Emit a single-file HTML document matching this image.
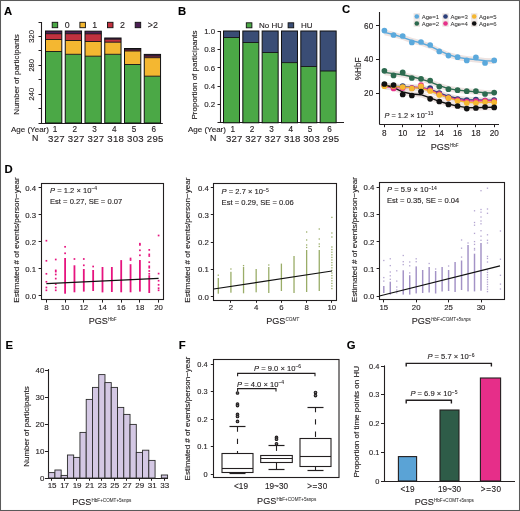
<!DOCTYPE html>
<html><head><meta charset="utf-8"><style>
html,body{margin:0;padding:0;background:#fff;}
svg{display:block;font-family:"Liberation Sans", sans-serif;will-change:transform;}
text{stroke:#231f20;stroke-width:0.13px;}
</style></head><body>
<svg width="520" height="511" viewBox="0 0 520 511">
<rect width="520" height="511" fill="#fff"/>
<text x="4" y="15.1" font-size="11.3" font-weight="bold" fill="#000">A</text>
<text x="178.1" y="14.8" font-size="11.3" font-weight="bold" fill="#000">B</text>
<text x="341.9" y="13.4" font-size="11.3" font-weight="bold" fill="#000">C</text>
<text x="4.4" y="173.0" font-size="11.3" font-weight="bold" fill="#000">D</text>
<text x="5.4" y="349.2" font-size="11.3" font-weight="bold" fill="#000">E</text>
<text x="178.8" y="349.2" font-size="11.3" font-weight="bold" fill="#000">F</text>
<text x="346.8" y="349.2" font-size="11.3" font-weight="bold" fill="#000">G</text>
<line x1="41.5" y1="22" x2="41.5" y2="123.5" stroke="#231f20" stroke-width="1.1"/>
<line x1="38.5" y1="22.5" x2="41.5" y2="22.5" stroke="#231f20" stroke-width="1"/>
<line x1="38.5" y1="36.5" x2="41.5" y2="36.5" stroke="#231f20" stroke-width="1"/>
<line x1="38.5" y1="50.5" x2="41.5" y2="50.5" stroke="#231f20" stroke-width="1"/>
<line x1="38.5" y1="65.5" x2="41.5" y2="65.5" stroke="#231f20" stroke-width="1"/>
<line x1="38.5" y1="79.5" x2="41.5" y2="79.5" stroke="#231f20" stroke-width="1"/>
<line x1="38.5" y1="94.5" x2="41.5" y2="94.5" stroke="#231f20" stroke-width="1"/>
<line x1="38.5" y1="108.5" x2="41.5" y2="108.5" stroke="#231f20" stroke-width="1"/>
<line x1="38.5" y1="123.5" x2="162.8" y2="123.5" stroke="#231f20" stroke-width="1.1"/>
<text x="0" y="0" font-size="7.6" text-anchor="middle" fill="#231f20" transform="translate(34.0,36.43199999999999) rotate(-90)">320</text>
<text x="0" y="0" font-size="7.6" text-anchor="middle" fill="#231f20" transform="translate(34.0,65.288) rotate(-90)">280</text>
<text x="0" y="0" font-size="7.6" text-anchor="middle" fill="#231f20" transform="translate(34.0,94.144) rotate(-90)">240</text>
<text x="0" y="0" font-size="8" text-anchor="middle" fill="#231f20" transform="translate(19.2,74.4) rotate(-90)">Number of participants</text>
<rect x="45.50" y="51.50" width="16.30" height="71.50" fill="#4ba846"/>
<rect x="45.50" y="39.50" width="16.30" height="12.00" fill="#f4b731"/>
<rect x="45.50" y="33.70" width="16.30" height="5.80" fill="#c1313f"/>
<rect x="45.50" y="31.00" width="16.30" height="2.70" fill="#4b1f55"/>
<line x1="45.5" y1="33.7" x2="61.8" y2="33.7" stroke="#111" stroke-width="0.9"/>
<line x1="45.5" y1="39.5" x2="61.8" y2="39.5" stroke="#111" stroke-width="0.9"/>
<line x1="45.5" y1="51.5" x2="61.8" y2="51.5" stroke="#111" stroke-width="0.9"/>
<rect x="45.50" y="31.00" width="16.30" height="92.00" fill="none" stroke="#111" stroke-width="1"/>
<rect x="65.25" y="54.30" width="16.30" height="68.70" fill="#4ba846"/>
<rect x="65.25" y="40.50" width="16.30" height="13.80" fill="#f4b731"/>
<rect x="65.25" y="33.70" width="16.30" height="6.80" fill="#c1313f"/>
<rect x="65.25" y="31.00" width="16.30" height="2.70" fill="#4b1f55"/>
<line x1="65.25" y1="33.7" x2="81.55" y2="33.7" stroke="#111" stroke-width="0.9"/>
<line x1="65.25" y1="40.5" x2="81.55" y2="40.5" stroke="#111" stroke-width="0.9"/>
<line x1="65.25" y1="54.3" x2="81.55" y2="54.3" stroke="#111" stroke-width="0.9"/>
<rect x="65.25" y="31.00" width="16.30" height="92.00" fill="none" stroke="#111" stroke-width="1"/>
<rect x="85.00" y="56.20" width="16.30" height="66.80" fill="#4ba846"/>
<rect x="85.00" y="41.50" width="16.30" height="14.70" fill="#f4b731"/>
<rect x="85.00" y="33.80" width="16.30" height="7.70" fill="#c1313f"/>
<rect x="85.00" y="31.20" width="16.30" height="2.60" fill="#4b1f55"/>
<line x1="85.0" y1="33.8" x2="101.3" y2="33.8" stroke="#111" stroke-width="0.9"/>
<line x1="85.0" y1="41.5" x2="101.3" y2="41.5" stroke="#111" stroke-width="0.9"/>
<line x1="85.0" y1="56.2" x2="101.3" y2="56.2" stroke="#111" stroke-width="0.9"/>
<rect x="85.00" y="31.20" width="16.30" height="91.80" fill="none" stroke="#111" stroke-width="1"/>
<rect x="104.75" y="54.30" width="16.30" height="68.70" fill="#4ba846"/>
<rect x="104.75" y="42.20" width="16.30" height="12.10" fill="#f4b731"/>
<rect x="104.75" y="39.20" width="16.30" height="3.00" fill="#c1313f"/>
<rect x="104.75" y="38.00" width="16.30" height="1.20" fill="#4b1f55"/>
<line x1="104.75" y1="39.2" x2="121.05" y2="39.2" stroke="#111" stroke-width="0.9"/>
<line x1="104.75" y1="42.2" x2="121.05" y2="42.2" stroke="#111" stroke-width="0.9"/>
<line x1="104.75" y1="54.3" x2="121.05" y2="54.3" stroke="#111" stroke-width="0.9"/>
<rect x="104.75" y="38.00" width="16.30" height="85.00" fill="none" stroke="#111" stroke-width="1"/>
<rect x="124.50" y="64.50" width="16.30" height="58.50" fill="#4ba846"/>
<rect x="124.50" y="51.00" width="16.30" height="13.50" fill="#f4b731"/>
<rect x="124.50" y="49.80" width="16.30" height="1.20" fill="#c1313f"/>
<rect x="124.50" y="48.50" width="16.30" height="1.30" fill="#4b1f55"/>
<line x1="124.5" y1="49.8" x2="140.8" y2="49.8" stroke="#111" stroke-width="0.9"/>
<line x1="124.5" y1="51" x2="140.8" y2="51" stroke="#111" stroke-width="0.9"/>
<line x1="124.5" y1="64.5" x2="140.8" y2="64.5" stroke="#111" stroke-width="0.9"/>
<rect x="124.50" y="48.50" width="16.30" height="74.50" fill="none" stroke="#111" stroke-width="1"/>
<rect x="144.25" y="76.20" width="16.30" height="46.80" fill="#4ba846"/>
<rect x="144.25" y="57.70" width="16.30" height="18.50" fill="#f4b731"/>
<rect x="144.25" y="56.10" width="16.30" height="1.60" fill="#c1313f"/>
<rect x="144.25" y="54.40" width="16.30" height="1.70" fill="#4b1f55"/>
<line x1="144.25" y1="56.1" x2="160.55" y2="56.1" stroke="#111" stroke-width="0.9"/>
<line x1="144.25" y1="57.7" x2="160.55" y2="57.7" stroke="#111" stroke-width="0.9"/>
<line x1="144.25" y1="76.2" x2="160.55" y2="76.2" stroke="#111" stroke-width="0.9"/>
<rect x="144.25" y="54.40" width="16.30" height="68.60" fill="none" stroke="#111" stroke-width="1"/>
<rect x="52.20" y="22.30" width="5.50" height="5.40" fill="#4ba846" stroke="#111" stroke-width="0.9"/>
<text x="67.2" y="27.7" font-size="8.8" text-anchor="middle" fill="#231f20">0</text>
<rect x="79.90" y="22.30" width="5.50" height="5.40" fill="#f4b731" stroke="#111" stroke-width="0.9"/>
<text x="94.8" y="27.7" font-size="8.8" text-anchor="middle" fill="#231f20">1</text>
<rect x="107.50" y="22.30" width="5.50" height="5.40" fill="#c1313f" stroke="#111" stroke-width="0.9"/>
<text x="122.5" y="27.7" font-size="8.8" text-anchor="middle" fill="#231f20">2</text>
<rect x="135.20" y="22.30" width="5.50" height="5.40" fill="#4b1f55" stroke="#111" stroke-width="0.9"/>
<text x="152.8" y="27.7" font-size="8.8" text-anchor="middle" fill="#231f20">&gt;2</text>
<text x="11" y="132.4" font-size="8" fill="#231f20">Age (Year)</text>
<text x="38.4" y="141.4" font-size="8.8" text-anchor="end" fill="#231f20">N</text>
<text x="54.949999999999996" y="132.2" font-size="8.2" text-anchor="middle" fill="#231f20">1</text>
<text x="56.449999999999996" y="141.6" font-size="9.6" text-anchor="middle" fill="#231f20" letter-spacing="0.25">327</text>
<text x="74.7" y="132.2" font-size="8.2" text-anchor="middle" fill="#231f20">2</text>
<text x="76.2" y="141.6" font-size="9.6" text-anchor="middle" fill="#231f20" letter-spacing="0.25">327</text>
<text x="94.45" y="132.2" font-size="8.2" text-anchor="middle" fill="#231f20">3</text>
<text x="95.95" y="141.6" font-size="9.6" text-anchor="middle" fill="#231f20" letter-spacing="0.25">327</text>
<text x="114.2" y="132.2" font-size="8.2" text-anchor="middle" fill="#231f20">4</text>
<text x="115.7" y="141.6" font-size="9.6" text-anchor="middle" fill="#231f20" letter-spacing="0.25">318</text>
<text x="133.95000000000002" y="132.2" font-size="8.2" text-anchor="middle" fill="#231f20">5</text>
<text x="135.45000000000002" y="141.6" font-size="9.6" text-anchor="middle" fill="#231f20" letter-spacing="0.25">303</text>
<text x="153.70000000000002" y="132.2" font-size="8.2" text-anchor="middle" fill="#231f20">6</text>
<text x="155.20000000000002" y="141.6" font-size="9.6" text-anchor="middle" fill="#231f20" letter-spacing="0.25">295</text>
<line x1="220.5" y1="31" x2="220.5" y2="123" stroke="#231f20" stroke-width="1.1"/>
<line x1="217.5" y1="104.5" x2="220.5" y2="104.5" stroke="#231f20" stroke-width="1"/>
<text x="215.2" y="107.24" font-size="7.9" text-anchor="end" fill="#231f20">0.2</text>
<line x1="217.5" y1="86.5" x2="220.5" y2="86.5" stroke="#231f20" stroke-width="1"/>
<text x="215.2" y="88.88" font-size="7.9" text-anchor="end" fill="#231f20">0.4</text>
<line x1="217.5" y1="67.5" x2="220.5" y2="67.5" stroke="#231f20" stroke-width="1"/>
<text x="215.2" y="70.52" font-size="7.9" text-anchor="end" fill="#231f20">0.6</text>
<line x1="217.5" y1="49.5" x2="220.5" y2="49.5" stroke="#231f20" stroke-width="1"/>
<text x="215.2" y="52.16" font-size="7.9" text-anchor="end" fill="#231f20">0.8</text>
<line x1="217.5" y1="31.5" x2="220.5" y2="31.5" stroke="#231f20" stroke-width="1"/>
<text x="215.2" y="33.8" font-size="7.9" text-anchor="end" fill="#231f20">1.0</text>
<line x1="217.5" y1="122.5" x2="344" y2="122.5" stroke="#231f20" stroke-width="1.1"/>
<text x="0" y="0" font-size="8" text-anchor="middle" fill="#231f20" transform="translate(196.5,75) rotate(-90)">Proportion of participants</text>
<rect x="223.50" y="37.50" width="16.00" height="85.30" fill="#4ba846"/>
<rect x="223.50" y="31.00" width="16.00" height="6.50" fill="#3a4d75"/>
<line x1="223.5" y1="37.5" x2="239.5" y2="37.5" stroke="#111" stroke-width="0.9"/>
<rect x="223.50" y="31.00" width="16.00" height="91.80" fill="none" stroke="#111" stroke-width="1"/>
<rect x="242.83" y="42.50" width="16.00" height="80.30" fill="#4ba846"/>
<rect x="242.83" y="31.00" width="16.00" height="11.50" fill="#3a4d75"/>
<line x1="242.82999999999998" y1="42.5" x2="258.83" y2="42.5" stroke="#111" stroke-width="0.9"/>
<rect x="242.83" y="31.00" width="16.00" height="91.80" fill="none" stroke="#111" stroke-width="1"/>
<rect x="262.16" y="52.50" width="16.00" height="70.30" fill="#4ba846"/>
<rect x="262.16" y="31.00" width="16.00" height="21.50" fill="#3a4d75"/>
<line x1="262.15999999999997" y1="52.5" x2="278.15999999999997" y2="52.5" stroke="#111" stroke-width="0.9"/>
<rect x="262.16" y="31.00" width="16.00" height="91.80" fill="none" stroke="#111" stroke-width="1"/>
<rect x="281.49" y="62.60" width="16.00" height="60.20" fill="#4ba846"/>
<rect x="281.49" y="31.00" width="16.00" height="31.60" fill="#3a4d75"/>
<line x1="281.49" y1="62.6" x2="297.49" y2="62.6" stroke="#111" stroke-width="0.9"/>
<rect x="281.49" y="31.00" width="16.00" height="91.80" fill="none" stroke="#111" stroke-width="1"/>
<rect x="300.82" y="66.50" width="16.00" height="56.30" fill="#4ba846"/>
<rect x="300.82" y="31.00" width="16.00" height="35.50" fill="#3a4d75"/>
<line x1="300.82" y1="66.5" x2="316.82" y2="66.5" stroke="#111" stroke-width="0.9"/>
<rect x="300.82" y="31.00" width="16.00" height="91.80" fill="none" stroke="#111" stroke-width="1"/>
<rect x="320.15" y="71.00" width="16.00" height="51.80" fill="#4ba846"/>
<rect x="320.15" y="31.00" width="16.00" height="40.00" fill="#3a4d75"/>
<line x1="320.15" y1="71" x2="336.15" y2="71" stroke="#111" stroke-width="0.9"/>
<rect x="320.15" y="31.00" width="16.00" height="91.80" fill="none" stroke="#111" stroke-width="1"/>
<rect x="246.30" y="22.80" width="5.60" height="5.00" fill="#4ba846" stroke="#111" stroke-width="0.9"/>
<text x="259" y="28.1" font-size="8" fill="#231f20">No HU</text>
<rect x="288.10" y="22.80" width="5.60" height="5.00" fill="#3a4d75" stroke="#111" stroke-width="0.9"/>
<text x="301" y="28.1" font-size="8" fill="#231f20">HU</text>
<text x="188" y="132.4" font-size="8" fill="#231f20">Age (Year)</text>
<text x="216.4" y="141.4" font-size="8.8" text-anchor="end" fill="#231f20">N</text>
<text x="232.8" y="132.2" font-size="8.2" text-anchor="middle" fill="#231f20">1</text>
<text x="234.3" y="141.6" font-size="9.6" text-anchor="middle" fill="#231f20" letter-spacing="0.25">327</text>
<text x="252.13" y="132.2" font-size="8.2" text-anchor="middle" fill="#231f20">2</text>
<text x="253.63" y="141.6" font-size="9.6" text-anchor="middle" fill="#231f20" letter-spacing="0.25">327</text>
<text x="271.46" y="132.2" font-size="8.2" text-anchor="middle" fill="#231f20">3</text>
<text x="272.96" y="141.6" font-size="9.6" text-anchor="middle" fill="#231f20" letter-spacing="0.25">327</text>
<text x="290.79" y="132.2" font-size="8.2" text-anchor="middle" fill="#231f20">4</text>
<text x="292.29" y="141.6" font-size="9.6" text-anchor="middle" fill="#231f20" letter-spacing="0.25">318</text>
<text x="310.12" y="132.2" font-size="8.2" text-anchor="middle" fill="#231f20">5</text>
<text x="311.62" y="141.6" font-size="9.6" text-anchor="middle" fill="#231f20" letter-spacing="0.25">303</text>
<text x="329.45" y="132.2" font-size="8.2" text-anchor="middle" fill="#231f20">6</text>
<text x="330.95" y="141.6" font-size="9.6" text-anchor="middle" fill="#231f20" letter-spacing="0.25">295</text>
<line x1="379.5" y1="12" x2="379.5" y2="124.5" stroke="#231f20" stroke-width="1.1"/>
<line x1="379.5" y1="124.5" x2="499" y2="124.5" stroke="#231f20" stroke-width="1.1"/>
<line x1="376" y1="93.5" x2="379.5" y2="93.5" stroke="#231f20" stroke-width="1"/>
<text x="373.2" y="96.2" font-size="8.2" text-anchor="end" fill="#231f20">20</text>
<line x1="376" y1="59.5" x2="379.5" y2="59.5" stroke="#231f20" stroke-width="1"/>
<text x="373.2" y="62.400000000000006" font-size="8.2" text-anchor="end" fill="#231f20">40</text>
<line x1="376" y1="25.5" x2="379.5" y2="25.5" stroke="#231f20" stroke-width="1"/>
<text x="373.2" y="28.60000000000001" font-size="8.2" text-anchor="end" fill="#231f20">60</text>
<line x1="384.5" y1="124" x2="384.5" y2="127.2" stroke="#231f20" stroke-width="1"/>
<text x="384.4" y="136.4" font-size="8.2" text-anchor="middle" fill="#231f20">8</text>
<line x1="402.5" y1="124" x2="402.5" y2="127.2" stroke="#231f20" stroke-width="1"/>
<text x="402.7" y="136.4" font-size="8.2" text-anchor="middle" fill="#231f20">10</text>
<line x1="421.5" y1="124" x2="421.5" y2="127.2" stroke="#231f20" stroke-width="1"/>
<text x="421.0" y="136.4" font-size="8.2" text-anchor="middle" fill="#231f20">12</text>
<line x1="439.5" y1="124" x2="439.5" y2="127.2" stroke="#231f20" stroke-width="1"/>
<text x="439.29999999999995" y="136.4" font-size="8.2" text-anchor="middle" fill="#231f20">14</text>
<line x1="457.5" y1="124" x2="457.5" y2="127.2" stroke="#231f20" stroke-width="1"/>
<text x="457.59999999999997" y="136.4" font-size="8.2" text-anchor="middle" fill="#231f20">16</text>
<line x1="475.5" y1="124" x2="475.5" y2="127.2" stroke="#231f20" stroke-width="1"/>
<text x="475.9" y="136.4" font-size="8.2" text-anchor="middle" fill="#231f20">18</text>
<line x1="494.5" y1="124" x2="494.5" y2="127.2" stroke="#231f20" stroke-width="1"/>
<text x="494.2" y="136.4" font-size="8.2" text-anchor="middle" fill="#231f20">20</text>
<text x="0" y="0" font-size="8.2" text-anchor="middle" fill="#231f20" transform="translate(361.0,68.8) rotate(-90)">%HbF</text>
<text x="430.7" y="149.6" font-size="9.8" fill="#231f20" textLength="19.2" lengthAdjust="spacingAndGlyphs">PGS</text>
<text x="450.0" y="146.5" font-size="4.6" fill="#333" style="stroke-width:0.05px">HbF</text>
<text x="384.5" y="117.8" font-size="7.4" fill="#231f20"><tspan font-style="italic">P</tspan> = 1.2 × 10<tspan font-size="5.0" dy="-2.6" style="stroke-width:0.08px">−13</tspan></text>
<polygon points="384.4,29.6 393.5,31.7 402.7,34.5 411.8,37.8 421.0,40.2 430.1,43.3 439.3,47.9 448.4,51.9 457.6,54.6 466.8,56.0 475.9,56.8 485.0,58.0 494.2,58.3 494.2,63.9 485.0,63.6 475.9,62.4 466.8,61.6 457.6,60.2 448.4,57.5 439.3,53.5 430.1,48.9 421.0,45.8 411.8,43.4 402.7,40.1 393.5,37.3 384.4,35.2" fill="#e9dcd9" opacity="0.8"/>
<polygon points="384.4,69.6 393.5,70.8 402.7,71.9 411.8,74.0 421.0,76.3 430.1,79.0 439.3,82.8 448.4,85.8 457.6,87.3 466.8,88.2 475.9,89.1 485.0,90.0 494.2,90.2 494.2,95.8 485.0,95.6 475.9,94.7 466.8,93.8 457.6,92.9 448.4,91.4 439.3,88.4 430.1,84.6 421.0,81.9 411.8,79.6 402.7,77.5 393.5,76.4 384.4,75.2" fill="#e9dcd9" opacity="0.8"/>
<polygon points="384.4,82.9 393.5,83.5 402.7,83.9 411.8,84.4 421.0,84.9 430.1,86.5 439.3,90.0 448.4,93.5 457.6,95.7 466.8,96.8 475.9,97.1 485.0,97.4 494.2,97.4 494.2,103.0 485.0,103.0 475.9,102.7 466.8,102.4 457.6,101.3 448.4,99.1 439.3,95.6 430.1,92.1 421.0,90.5 411.8,90.0 402.7,89.5 393.5,89.1 384.4,88.5" fill="#e9dcd9" opacity="0.8"/>
<polygon points="384.4,83.8 393.5,84.8 402.7,85.1 411.8,84.6 421.0,84.6 430.1,87.2 439.3,91.1 448.4,94.5 457.6,96.9 466.8,98.0 475.9,98.2 485.0,98.0 494.2,98.1 494.2,103.7 485.0,103.6 475.9,103.8 466.8,103.6 457.6,102.5 448.4,100.1 439.3,96.7 430.1,92.8 421.0,90.2 411.8,90.2 402.7,90.7 393.5,90.4 384.4,89.4" fill="#e9dcd9" opacity="0.8"/>
<polygon points="384.4,83.4 393.5,83.6 402.7,84.3 411.8,84.8 421.0,85.6 430.1,88.2 439.3,91.9 448.4,95.1 457.6,97.8 466.8,99.5 475.9,99.9 485.0,99.6 494.2,99.5 494.2,105.1 485.0,105.2 475.9,105.5 466.8,105.1 457.6,103.4 448.4,100.7 439.3,97.5 430.1,93.8 421.0,91.2 411.8,90.4 402.7,89.9 393.5,89.2 384.4,89.0" fill="#e9dcd9" opacity="0.8"/>
<polygon points="384.4,82.1 393.5,84.8 402.7,89.1 411.8,91.2 421.0,91.9 430.1,95.0 439.3,98.5 448.4,101.2 457.6,103.3 466.8,104.8 475.9,105.0 485.0,104.6 494.2,104.5 494.2,110.1 485.0,110.2 475.9,110.6 466.8,110.4 457.6,108.9 448.4,106.8 439.3,104.1 430.1,100.6 421.0,97.5 411.8,96.8 402.7,94.7 393.5,90.4 384.4,87.7" fill="#e9dcd9" opacity="0.8"/>
<polyline points="384.4,32.4 393.5,34.5 402.7,37.3 411.8,40.6 421.0,43.0 430.1,46.1 439.3,50.7 448.4,54.7 457.6,57.4 466.8,58.8 475.9,59.6 485.0,60.8 494.2,61.1" fill="none" stroke="#5ba9dc" stroke-width="1.4" stroke-linejoin="round"/>
<polyline points="384.4,72.4 393.5,73.6 402.7,74.7 411.8,76.8 421.0,79.1 430.1,81.8 439.3,85.6 448.4,88.6 457.6,90.1 466.8,91.0 475.9,91.9 485.0,92.8 494.2,93.0" fill="none" stroke="#2d6a4f" stroke-width="1.4" stroke-linejoin="round"/>
<polyline points="384.4,85.7 393.5,86.3 402.7,86.7 411.8,87.2 421.0,87.7 430.1,89.3 439.3,92.8 448.4,96.3 457.6,98.5 466.8,99.6 475.9,99.9 485.0,100.2 494.2,100.2" fill="none" stroke="#2b3f7a" stroke-width="1.4" stroke-linejoin="round"/>
<polyline points="384.4,86.6 393.5,87.6 402.7,87.9 411.8,87.4 421.0,87.4 430.1,90.0 439.3,93.9 448.4,97.3 457.6,99.7 466.8,100.8 475.9,101.0 485.0,100.8 494.2,100.9" fill="none" stroke="#e6318a" stroke-width="1.4" stroke-linejoin="round"/>
<polyline points="384.4,86.2 393.5,86.4 402.7,87.1 411.8,87.6 421.0,88.4 430.1,91.0 439.3,94.7 448.4,97.9 457.6,100.6 466.8,102.3 475.9,102.7 485.0,102.4 494.2,102.3" fill="none" stroke="#f4b731" stroke-width="1.4" stroke-linejoin="round"/>
<polyline points="384.4,84.9 393.5,87.6 402.7,91.9 411.8,94.0 421.0,94.7 430.1,97.8 439.3,101.3 448.4,104.0 457.6,106.1 466.8,107.6 475.9,107.8 485.0,107.4 494.2,107.3" fill="none" stroke="#111111" stroke-width="1.4" stroke-linejoin="round"/>
<circle cx="384.40" cy="30.60" r="2.85" fill="#5ba9dc"/>
<circle cx="393.55" cy="35.00" r="2.85" fill="#5ba9dc"/>
<circle cx="402.70" cy="36.00" r="2.85" fill="#5ba9dc"/>
<circle cx="411.85" cy="42.40" r="2.85" fill="#5ba9dc"/>
<circle cx="421.00" cy="42.00" r="2.85" fill="#5ba9dc"/>
<circle cx="430.15" cy="45.00" r="2.85" fill="#5ba9dc"/>
<circle cx="439.30" cy="51.40" r="2.85" fill="#5ba9dc"/>
<circle cx="448.45" cy="55.60" r="2.85" fill="#5ba9dc"/>
<circle cx="457.60" cy="57.20" r="2.85" fill="#5ba9dc"/>
<circle cx="466.75" cy="60.40" r="2.85" fill="#5ba9dc"/>
<circle cx="475.90" cy="57.40" r="2.85" fill="#5ba9dc"/>
<circle cx="485.05" cy="63.00" r="2.85" fill="#5ba9dc"/>
<circle cx="494.20" cy="60.40" r="2.85" fill="#5ba9dc"/>
<circle cx="384.40" cy="70.80" r="2.85" fill="#2d6a4f"/>
<circle cx="393.55" cy="75.40" r="2.85" fill="#2d6a4f"/>
<circle cx="402.70" cy="72.40" r="2.85" fill="#2d6a4f"/>
<circle cx="411.85" cy="78.00" r="2.85" fill="#2d6a4f"/>
<circle cx="421.00" cy="78.80" r="2.85" fill="#2d6a4f"/>
<circle cx="430.15" cy="80.60" r="2.85" fill="#2d6a4f"/>
<circle cx="439.30" cy="86.60" r="2.85" fill="#2d6a4f"/>
<circle cx="448.45" cy="89.20" r="2.85" fill="#2d6a4f"/>
<circle cx="457.60" cy="90.20" r="2.85" fill="#2d6a4f"/>
<circle cx="466.75" cy="91.20" r="2.85" fill="#2d6a4f"/>
<circle cx="475.90" cy="91.20" r="2.85" fill="#2d6a4f"/>
<circle cx="485.05" cy="94.00" r="2.85" fill="#2d6a4f"/>
<circle cx="494.20" cy="92.60" r="2.85" fill="#2d6a4f"/>
<circle cx="384.40" cy="85.00" r="2.85" fill="#2b3f7a"/>
<circle cx="393.55" cy="87.00" r="2.85" fill="#2b3f7a"/>
<circle cx="402.70" cy="86.00" r="2.85" fill="#2b3f7a"/>
<circle cx="411.85" cy="88.00" r="2.85" fill="#2b3f7a"/>
<circle cx="421.00" cy="87.00" r="2.85" fill="#2b3f7a"/>
<circle cx="430.15" cy="88.00" r="2.85" fill="#2b3f7a"/>
<circle cx="439.30" cy="93.00" r="2.85" fill="#2b3f7a"/>
<circle cx="448.45" cy="97.00" r="2.85" fill="#2b3f7a"/>
<circle cx="457.60" cy="99.00" r="2.85" fill="#2b3f7a"/>
<circle cx="466.75" cy="100.00" r="2.85" fill="#2b3f7a"/>
<circle cx="475.90" cy="99.60" r="2.85" fill="#2b3f7a"/>
<circle cx="485.05" cy="100.60" r="2.85" fill="#2b3f7a"/>
<circle cx="494.20" cy="100.00" r="2.85" fill="#2b3f7a"/>
<circle cx="384.40" cy="85.50" r="2.85" fill="#e6318a"/>
<circle cx="393.55" cy="88.50" r="2.85" fill="#e6318a"/>
<circle cx="402.70" cy="88.00" r="2.85" fill="#e6318a"/>
<circle cx="411.85" cy="88.00" r="2.85" fill="#e6318a"/>
<circle cx="421.00" cy="85.00" r="2.85" fill="#e6318a"/>
<circle cx="430.15" cy="90.00" r="2.85" fill="#e6318a"/>
<circle cx="439.30" cy="94.00" r="2.85" fill="#e6318a"/>
<circle cx="448.45" cy="98.00" r="2.85" fill="#e6318a"/>
<circle cx="457.60" cy="100.00" r="2.85" fill="#e6318a"/>
<circle cx="466.75" cy="101.50" r="2.85" fill="#e6318a"/>
<circle cx="475.90" cy="101.00" r="2.85" fill="#e6318a"/>
<circle cx="485.05" cy="100.60" r="2.85" fill="#e6318a"/>
<circle cx="494.20" cy="101.00" r="2.85" fill="#e6318a"/>
<circle cx="384.40" cy="86.20" r="2.85" fill="#f4b731"/>
<circle cx="393.55" cy="86.00" r="2.85" fill="#f4b731"/>
<circle cx="402.70" cy="87.00" r="2.85" fill="#f4b731"/>
<circle cx="411.85" cy="88.50" r="2.85" fill="#f4b731"/>
<circle cx="421.00" cy="86.40" r="2.85" fill="#f4b731"/>
<circle cx="430.15" cy="91.00" r="2.85" fill="#f4b731"/>
<circle cx="439.30" cy="95.00" r="2.85" fill="#f4b731"/>
<circle cx="448.45" cy="98.00" r="2.85" fill="#f4b731"/>
<circle cx="457.60" cy="101.00" r="2.85" fill="#f4b731"/>
<circle cx="466.75" cy="103.00" r="2.85" fill="#f4b731"/>
<circle cx="475.90" cy="103.00" r="2.85" fill="#f4b731"/>
<circle cx="485.05" cy="102.00" r="2.85" fill="#f4b731"/>
<circle cx="494.20" cy="102.40" r="2.85" fill="#f4b731"/>
<circle cx="384.40" cy="84.00" r="2.85" fill="#111111"/>
<circle cx="393.55" cy="85.00" r="2.85" fill="#111111"/>
<circle cx="402.70" cy="94.50" r="2.85" fill="#111111"/>
<circle cx="411.85" cy="95.50" r="2.85" fill="#111111"/>
<circle cx="421.00" cy="91.50" r="2.85" fill="#111111"/>
<circle cx="430.15" cy="98.80" r="2.85" fill="#111111"/>
<circle cx="439.30" cy="101.50" r="2.85" fill="#111111"/>
<circle cx="448.45" cy="104.40" r="2.85" fill="#111111"/>
<circle cx="457.60" cy="106.00" r="2.85" fill="#111111"/>
<circle cx="466.75" cy="108.60" r="2.85" fill="#111111"/>
<circle cx="475.90" cy="108.00" r="2.85" fill="#111111"/>
<circle cx="485.05" cy="107.00" r="2.85" fill="#111111"/>
<circle cx="494.20" cy="107.40" r="2.85" fill="#111111"/>
<rect x="413.60" y="13.30" width="6.40" height="6.40" fill="#ece3e0"/>
<circle cx="416.80" cy="16.50" r="2.3" fill="#5ba9dc"/>
<text x="421.7" y="18.6" font-size="6.0" fill="#333" style="stroke-width:0.04px">Age=1</text>
<rect x="413.60" y="20.30" width="6.40" height="6.40" fill="#ece3e0"/>
<circle cx="416.80" cy="23.50" r="2.3" fill="#2d6a4f"/>
<text x="421.7" y="25.6" font-size="6.0" fill="#333" style="stroke-width:0.04px">Age=2</text>
<rect x="442.30" y="13.30" width="6.40" height="6.40" fill="#ece3e0"/>
<circle cx="445.50" cy="16.50" r="2.3" fill="#2b3f7a"/>
<text x="450.4" y="18.6" font-size="6.0" fill="#333" style="stroke-width:0.04px">Age=3</text>
<rect x="442.30" y="20.30" width="6.40" height="6.40" fill="#ece3e0"/>
<circle cx="445.50" cy="23.50" r="2.3" fill="#e6318a"/>
<text x="450.4" y="25.6" font-size="6.0" fill="#333" style="stroke-width:0.04px">Age=4</text>
<rect x="471.00" y="13.30" width="6.40" height="6.40" fill="#ece3e0"/>
<circle cx="474.20" cy="16.50" r="2.3" fill="#f4b731"/>
<text x="479.09999999999997" y="18.6" font-size="6.0" fill="#333" style="stroke-width:0.04px">Age=5</text>
<rect x="471.00" y="20.30" width="6.40" height="6.40" fill="#ece3e0"/>
<circle cx="474.20" cy="23.50" r="2.3" fill="#111111"/>
<text x="479.09999999999997" y="25.6" font-size="6.0" fill="#333" style="stroke-width:0.04px">Age=6</text>
<rect x="41.50" y="183.50" width="122.00" height="116.00" fill="none" stroke="#231f20" stroke-width="1.1"/>
<line x1="38.6" y1="187.5" x2="41.4" y2="187.5" stroke="#231f20" stroke-width="1"/>
<text x="36.0" y="190.79999999999998" font-size="7.8" text-anchor="end" fill="#231f20">0.4</text>
<line x1="38.6" y1="214.5" x2="41.4" y2="214.5" stroke="#231f20" stroke-width="1"/>
<text x="36.0" y="217.79999999999998" font-size="7.8" text-anchor="end" fill="#231f20">0.3</text>
<line x1="38.6" y1="241.5" x2="41.4" y2="241.5" stroke="#231f20" stroke-width="1"/>
<text x="36.0" y="244.79999999999998" font-size="7.8" text-anchor="end" fill="#231f20">0.2</text>
<line x1="38.6" y1="268.5" x2="41.4" y2="268.5" stroke="#231f20" stroke-width="1"/>
<text x="36.0" y="272.0" font-size="7.8" text-anchor="end" fill="#231f20">0.1</text>
<line x1="38.6" y1="295.5" x2="41.4" y2="295.5" stroke="#231f20" stroke-width="1"/>
<text x="36.0" y="298.9" font-size="7.8" text-anchor="end" fill="#231f20">0.0</text>
<line x1="46.5" y1="299.8" x2="46.5" y2="302.6" stroke="#231f20" stroke-width="1"/>
<text x="46.4" y="310.1" font-size="7.8" text-anchor="middle" fill="#231f20">8</text>
<line x1="65.5" y1="299.8" x2="65.5" y2="302.6" stroke="#231f20" stroke-width="1"/>
<text x="65.1" y="310.1" font-size="7.8" text-anchor="middle" fill="#231f20">10</text>
<line x1="83.5" y1="299.8" x2="83.5" y2="302.6" stroke="#231f20" stroke-width="1"/>
<text x="83.8" y="310.1" font-size="7.8" text-anchor="middle" fill="#231f20">12</text>
<line x1="102.5" y1="299.8" x2="102.5" y2="302.6" stroke="#231f20" stroke-width="1"/>
<text x="102.5" y="310.1" font-size="7.8" text-anchor="middle" fill="#231f20">14</text>
<line x1="121.5" y1="299.8" x2="121.5" y2="302.6" stroke="#231f20" stroke-width="1"/>
<text x="121.19999999999999" y="310.1" font-size="7.8" text-anchor="middle" fill="#231f20">16</text>
<line x1="139.5" y1="299.8" x2="139.5" y2="302.6" stroke="#231f20" stroke-width="1"/>
<text x="139.9" y="310.1" font-size="7.8" text-anchor="middle" fill="#231f20">18</text>
<line x1="158.5" y1="299.8" x2="158.5" y2="302.6" stroke="#231f20" stroke-width="1"/>
<text x="158.6" y="310.1" font-size="7.8" text-anchor="middle" fill="#231f20">20</text>
<text x="0" y="0" font-size="8.1" text-anchor="middle" fill="#231f20" transform="translate(18.6,240.05) rotate(-90)">Estimated # of events/person−year</text>
<rect x="45.55" y="239.85" width="1.70" height="1.70" fill="#e6147f" opacity="1.0"/>
<rect x="45.55" y="259.95" width="1.70" height="1.70" fill="#e6147f" opacity="1.0"/>
<rect x="45.55" y="272.95" width="1.70" height="1.70" fill="#e6147f" opacity="1.0"/>
<rect x="45.55" y="280.95" width="1.70" height="1.70" fill="#e6147f" opacity="1.0"/>
<rect x="45.55" y="286.65" width="1.70" height="1.70" fill="#e6147f" opacity="1.0"/>
<rect x="45.55" y="289.45" width="1.70" height="1.70" fill="#e6147f" opacity="1.0"/>
<rect x="54.90" y="258.65" width="1.70" height="1.70" fill="#e6147f" opacity="1.0"/>
<rect x="54.90" y="269.55" width="1.70" height="1.70" fill="#e6147f" opacity="1.0"/>
<rect x="54.90" y="270.75" width="1.70" height="1.70" fill="#e6147f" opacity="1.0"/>
<rect x="54.90" y="273.65" width="1.70" height="1.70" fill="#e6147f" opacity="1.0"/>
<rect x="54.90" y="277.75" width="1.70" height="1.70" fill="#e6147f" opacity="1.0"/>
<rect x="54.90" y="283.25" width="1.70" height="1.70" fill="#e6147f" opacity="1.0"/>
<rect x="54.90" y="286.65" width="1.70" height="1.70" fill="#e6147f" opacity="1.0"/>
<rect x="54.90" y="289.45" width="1.70" height="1.70" fill="#e6147f" opacity="1.0"/>
<rect x="64.20" y="258.00" width="1.80" height="35.70" fill="#e6147f" opacity="1.0"/>
<rect x="64.25" y="245.95" width="1.70" height="1.70" fill="#e6147f" opacity="1.0"/>
<rect x="64.25" y="252.45" width="1.70" height="1.70" fill="#e6147f" opacity="1.0"/>
<rect x="73.55" y="265.30" width="1.80" height="27.00" fill="#e6147f" opacity="1.0"/>
<rect x="73.60" y="258.15" width="1.70" height="1.70" fill="#e6147f" opacity="1.0"/>
<rect x="82.90" y="269.00" width="1.80" height="22.60" fill="#e6147f" opacity="1.0"/>
<rect x="82.95" y="258.15" width="1.70" height="1.70" fill="#e6147f" opacity="1.0"/>
<rect x="82.95" y="264.45" width="1.70" height="1.70" fill="#e6147f" opacity="1.0"/>
<rect x="92.25" y="270.00" width="1.80" height="21.00" fill="#e6147f" opacity="1.0"/>
<rect x="92.30" y="265.65" width="1.70" height="1.70" fill="#e6147f" opacity="1.0"/>
<rect x="101.60" y="267.00" width="1.80" height="25.40" fill="#e6147f" opacity="1.0"/>
<rect x="110.95" y="267.00" width="1.80" height="25.00" fill="#e6147f" opacity="1.0"/>
<rect x="120.30" y="260.10" width="1.80" height="32.20" fill="#e6147f" opacity="1.0"/>
<rect x="129.65" y="264.20" width="1.80" height="28.10" fill="#e6147f" opacity="1.0"/>
<rect x="129.70" y="257.65" width="1.70" height="1.70" fill="#e6147f" opacity="1.0"/>
<rect x="129.70" y="259.15" width="1.70" height="1.70" fill="#e6147f" opacity="1.0"/>
<rect x="139.00" y="260.00" width="1.80" height="31.60" fill="#e6147f" opacity="1.0"/>
<rect x="139.05" y="242.85" width="1.70" height="1.70" fill="#e6147f" opacity="1.0"/>
<rect x="139.05" y="244.05" width="1.70" height="1.70" fill="#e6147f" opacity="1.0"/>
<rect x="139.05" y="249.45" width="1.70" height="1.70" fill="#e6147f" opacity="1.0"/>
<rect x="139.05" y="254.45" width="1.70" height="1.70" fill="#e6147f" opacity="1.0"/>
<rect x="148.35" y="275.20" width="1.80" height="17.80" fill="#e6147f" opacity="1.0"/>
<rect x="148.40" y="249.05" width="1.70" height="1.70" fill="#e6147f" opacity="1.0"/>
<rect x="148.40" y="253.55" width="1.70" height="1.70" fill="#e6147f" opacity="1.0"/>
<rect x="148.40" y="255.15" width="1.70" height="1.70" fill="#e6147f" opacity="1.0"/>
<rect x="148.40" y="261.35" width="1.70" height="1.70" fill="#e6147f" opacity="1.0"/>
<rect x="148.40" y="265.45" width="1.70" height="1.70" fill="#e6147f" opacity="1.0"/>
<rect x="148.40" y="266.85" width="1.70" height="1.70" fill="#e6147f" opacity="1.0"/>
<rect x="148.40" y="270.15" width="1.70" height="1.70" fill="#e6147f" opacity="1.0"/>
<rect x="148.40" y="272.95" width="1.70" height="1.70" fill="#e6147f" opacity="1.0"/>
<rect x="157.75" y="234.65" width="1.70" height="1.70" fill="#e6147f" opacity="1.0"/>
<rect x="157.75" y="272.75" width="1.70" height="1.70" fill="#e6147f" opacity="1.0"/>
<rect x="157.75" y="279.85" width="1.70" height="1.70" fill="#e6147f" opacity="1.0"/>
<rect x="157.75" y="283.95" width="1.70" height="1.70" fill="#e6147f" opacity="1.0"/>
<rect x="157.75" y="287.35" width="1.70" height="1.70" fill="#e6147f" opacity="1.0"/>
<rect x="157.75" y="289.45" width="1.70" height="1.70" fill="#e6147f" opacity="1.0"/>
<line x1="46.4" y1="283.7" x2="158.6" y2="278.4" stroke="#111" stroke-width="1.25"/>
<text x="50" y="192.8" font-size="7.6" fill="#231f20"><tspan font-style="italic">P</tspan> = 1.2 × 10<tspan font-size="5.0" dy="-2.6" style="stroke-width:0.08px">−4</tspan></text>
<text x="50" y="203.60000000000002" font-size="7.6" fill="#231f20">Est = 0.27, SE = 0.07</text>
<text x="88.7" y="324.4" font-size="9.8" fill="#231f20" textLength="19.2" lengthAdjust="spacingAndGlyphs">PGS</text>
<text x="108.0" y="321.29999999999995" font-size="4.6" fill="#333" style="stroke-width:0.05px">HbF</text>
<rect x="213.50" y="183.50" width="123.00" height="117.00" fill="none" stroke="#231f20" stroke-width="1.1"/>
<line x1="210.79999999999998" y1="187.5" x2="213.6" y2="187.5" stroke="#231f20" stroke-width="1"/>
<text x="208.8" y="191.0" font-size="7.8" text-anchor="end" fill="#231f20">0.4</text>
<line x1="210.79999999999998" y1="214.5" x2="213.6" y2="214.5" stroke="#231f20" stroke-width="1"/>
<text x="208.8" y="218.1" font-size="7.8" text-anchor="end" fill="#231f20">0.3</text>
<line x1="210.79999999999998" y1="242.5" x2="213.6" y2="242.5" stroke="#231f20" stroke-width="1"/>
<text x="208.8" y="245.2" font-size="7.8" text-anchor="end" fill="#231f20">0.2</text>
<line x1="210.79999999999998" y1="269.5" x2="213.6" y2="269.5" stroke="#231f20" stroke-width="1"/>
<text x="208.8" y="272.4" font-size="7.8" text-anchor="end" fill="#231f20">0.1</text>
<line x1="210.79999999999998" y1="296.5" x2="213.6" y2="296.5" stroke="#231f20" stroke-width="1"/>
<text x="208.8" y="299.5" font-size="7.8" text-anchor="end" fill="#231f20">0.0</text>
<line x1="230.5" y1="300.0" x2="230.5" y2="302.8" stroke="#231f20" stroke-width="1"/>
<text x="230.92000000000002" y="310.3" font-size="7.8" text-anchor="middle" fill="#231f20">2</text>
<line x1="256.5" y1="300.0" x2="256.5" y2="302.8" stroke="#231f20" stroke-width="1"/>
<text x="256.16" y="310.3" font-size="7.8" text-anchor="middle" fill="#231f20">4</text>
<line x1="281.5" y1="300.0" x2="281.5" y2="302.8" stroke="#231f20" stroke-width="1"/>
<text x="281.4" y="310.3" font-size="7.8" text-anchor="middle" fill="#231f20">6</text>
<line x1="306.5" y1="300.0" x2="306.5" y2="302.8" stroke="#231f20" stroke-width="1"/>
<text x="306.64" y="310.3" font-size="7.8" text-anchor="middle" fill="#231f20">8</text>
<line x1="331.5" y1="300.0" x2="331.5" y2="302.8" stroke="#231f20" stroke-width="1"/>
<text x="331.88" y="310.3" font-size="7.8" text-anchor="middle" fill="#231f20">10</text>
<text x="0" y="0" font-size="8.1" text-anchor="middle" fill="#231f20" transform="translate(190.4,240.1) rotate(-90)">Estimated # of events/person−year</text>
<rect x="217.65" y="278.00" width="1.30" height="15.70" fill="#9aad68" opacity="1.0"/>
<rect x="217.65" y="274.55" width="1.30" height="1.30" fill="#9aad68" opacity="1.0"/>
<rect x="230.27" y="271.80" width="1.30" height="20.90" fill="#9aad68" opacity="1.0"/>
<rect x="230.27" y="268.35" width="1.30" height="1.30" fill="#9aad68" opacity="1.0"/>
<rect x="242.89" y="267.00" width="1.30" height="26.30" fill="#9aad68" opacity="1.0"/>
<rect x="242.89" y="264.95" width="1.30" height="1.30" fill="#9aad68" opacity="1.0"/>
<rect x="255.51" y="269.00" width="1.30" height="23.30" fill="#9aad68" opacity="1.0"/>
<rect x="268.13" y="267.00" width="1.30" height="26.00" fill="#9aad68" opacity="1.0"/>
<rect x="268.13" y="264.35" width="1.30" height="1.30" fill="#9aad68" opacity="1.0"/>
<rect x="280.75" y="263.60" width="1.30" height="27.40" fill="#9aad68" opacity="1.0"/>
<rect x="293.37" y="256.00" width="1.30" height="37.00" fill="#9aad68" opacity="1.0"/>
<rect x="305.99" y="250.00" width="1.30" height="42.00" fill="#9aad68" opacity="1.0"/>
<rect x="305.99" y="231.35" width="1.30" height="1.30" fill="#9aad68" opacity="1.0"/>
<rect x="305.99" y="239.35" width="1.30" height="1.30" fill="#9aad68" opacity="1.0"/>
<rect x="305.99" y="244.35" width="1.30" height="1.30" fill="#9aad68" opacity="1.0"/>
<rect x="305.99" y="246.85" width="1.30" height="1.30" fill="#9aad68" opacity="1.0"/>
<rect x="318.61" y="250.00" width="1.30" height="41.00" fill="#9aad68" opacity="1.0"/>
<rect x="318.61" y="228.35" width="1.30" height="1.30" fill="#9aad68" opacity="1.0"/>
<rect x="318.61" y="238.35" width="1.30" height="1.30" fill="#9aad68" opacity="1.0"/>
<rect x="318.61" y="243.35" width="1.30" height="1.30" fill="#9aad68" opacity="1.0"/>
<rect x="318.61" y="245.85" width="1.30" height="1.30" fill="#9aad68" opacity="1.0"/>
<rect x="331.23" y="216.75" width="1.30" height="1.30" fill="#9aad68" opacity="1.0"/>
<rect x="331.23" y="232.35" width="1.30" height="1.30" fill="#9aad68" opacity="1.0"/>
<rect x="331.23" y="236.35" width="1.30" height="1.30" fill="#9aad68" opacity="1.0"/>
<rect x="331.23" y="246.35" width="1.30" height="1.30" fill="#9aad68" opacity="1.0"/>
<rect x="331.23" y="248.95" width="1.30" height="1.30" fill="#9aad68" opacity="1.0"/>
<rect x="331.23" y="251.55" width="1.30" height="1.30" fill="#9aad68" opacity="1.0"/>
<rect x="331.23" y="254.15" width="1.30" height="1.30" fill="#9aad68" opacity="1.0"/>
<rect x="331.23" y="256.75" width="1.30" height="1.30" fill="#9aad68" opacity="1.0"/>
<rect x="331.23" y="259.35" width="1.30" height="1.30" fill="#9aad68" opacity="1.0"/>
<rect x="331.23" y="261.95" width="1.30" height="1.30" fill="#9aad68" opacity="1.0"/>
<rect x="331.23" y="264.55" width="1.30" height="1.30" fill="#9aad68" opacity="1.0"/>
<rect x="331.23" y="267.15" width="1.30" height="1.30" fill="#9aad68" opacity="1.0"/>
<rect x="331.23" y="269.75" width="1.30" height="1.30" fill="#9aad68" opacity="1.0"/>
<rect x="331.23" y="272.35" width="1.30" height="1.30" fill="#9aad68" opacity="1.0"/>
<rect x="331.23" y="274.95" width="1.30" height="1.30" fill="#9aad68" opacity="1.0"/>
<rect x="331.23" y="277.55" width="1.30" height="1.30" fill="#9aad68" opacity="1.0"/>
<rect x="331.23" y="280.15" width="1.30" height="1.30" fill="#9aad68" opacity="1.0"/>
<rect x="331.23" y="282.75" width="1.30" height="1.30" fill="#9aad68" opacity="1.0"/>
<rect x="331.23" y="285.35" width="1.30" height="1.30" fill="#9aad68" opacity="1.0"/>
<rect x="331.23" y="287.95" width="1.30" height="1.30" fill="#9aad68" opacity="1.0"/>
<line x1="213.6" y1="289" x2="332" y2="271" stroke="#111" stroke-width="1.25"/>
<text x="221.6" y="194.2" font-size="7.6" fill="#231f20"><tspan font-style="italic">P</tspan> = 2.7 × 10<tspan font-size="5.0" dy="-2.6" style="stroke-width:0.08px">−5</tspan></text>
<text x="221.6" y="205.0" font-size="7.6" fill="#231f20">Est = 0.29, SE = 0.06</text>
<text x="266.2" y="324.0" font-size="9.8" fill="#231f20" textLength="19.2" lengthAdjust="spacingAndGlyphs">PGS</text>
<text x="285.5" y="320.9" font-size="4.6" fill="#333" font-style="italic" style="stroke-width:0.05px">COMT</text>
<rect x="379.50" y="182.50" width="125.00" height="117.00" fill="none" stroke="#231f20" stroke-width="1.1"/>
<line x1="376.59999999999997" y1="187.5" x2="379.4" y2="187.5" stroke="#231f20" stroke-width="1"/>
<text x="374.4" y="190.2" font-size="7.8" text-anchor="end" fill="#231f20">0.4</text>
<line x1="376.59999999999997" y1="214.5" x2="379.4" y2="214.5" stroke="#231f20" stroke-width="1"/>
<text x="374.4" y="217.39999999999998" font-size="7.8" text-anchor="end" fill="#231f20">0.3</text>
<line x1="376.59999999999997" y1="241.5" x2="379.4" y2="241.5" stroke="#231f20" stroke-width="1"/>
<text x="374.4" y="244.6" font-size="7.8" text-anchor="end" fill="#231f20">0.2</text>
<line x1="376.59999999999997" y1="268.5" x2="379.4" y2="268.5" stroke="#231f20" stroke-width="1"/>
<text x="374.4" y="271.8" font-size="7.8" text-anchor="end" fill="#231f20">0.1</text>
<line x1="376.59999999999997" y1="296.5" x2="379.4" y2="296.5" stroke="#231f20" stroke-width="1"/>
<text x="374.4" y="299.2" font-size="7.8" text-anchor="end" fill="#231f20">0.0</text>
<line x1="383.5" y1="299.6" x2="383.5" y2="302.40000000000003" stroke="#231f20" stroke-width="1"/>
<text x="383.8" y="309.90000000000003" font-size="7.8" text-anchor="middle" fill="#231f20">15</text>
<line x1="416.5" y1="299.6" x2="416.5" y2="302.40000000000003" stroke="#231f20" stroke-width="1"/>
<text x="416.20000000000005" y="309.90000000000003" font-size="7.8" text-anchor="middle" fill="#231f20">20</text>
<line x1="448.5" y1="299.6" x2="448.5" y2="302.40000000000003" stroke="#231f20" stroke-width="1"/>
<text x="448.6" y="309.90000000000003" font-size="7.8" text-anchor="middle" fill="#231f20">25</text>
<line x1="481.5" y1="299.6" x2="481.5" y2="302.40000000000003" stroke="#231f20" stroke-width="1"/>
<text x="481.0" y="309.90000000000003" font-size="7.8" text-anchor="middle" fill="#231f20">30</text>
<text x="0" y="0" font-size="8.1" text-anchor="middle" fill="#231f20" transform="translate(356.6,239.60000000000002) rotate(-90)">Estimated # of events/person−year</text>
<rect x="383.07" y="286.00" width="1.45" height="7.00" fill="#8068b0" opacity="0.72"/>
<rect x="383.15" y="259.85" width="1.30" height="1.30" fill="#8068b0" opacity="0.6"/>
<rect x="383.15" y="276.95" width="1.30" height="1.30" fill="#8068b0" opacity="0.6"/>
<rect x="383.15" y="280.45" width="1.30" height="1.30" fill="#8068b0" opacity="0.6"/>
<rect x="389.56" y="281.70" width="1.45" height="12.90" fill="#8068b0" opacity="0.72"/>
<rect x="389.63" y="258.15" width="1.30" height="1.30" fill="#8068b0" opacity="0.6"/>
<rect x="389.63" y="264.95" width="1.30" height="1.30" fill="#8068b0" opacity="0.6"/>
<rect x="389.63" y="271.35" width="1.30" height="1.30" fill="#8068b0" opacity="0.6"/>
<rect x="389.63" y="275.15" width="1.30" height="1.30" fill="#8068b0" opacity="0.6"/>
<rect x="389.63" y="278.65" width="1.30" height="1.30" fill="#8068b0" opacity="0.6"/>
<rect x="396.11" y="270.15" width="1.30" height="1.30" fill="#8068b0" opacity="0.6"/>
<rect x="396.11" y="280.45" width="1.30" height="1.30" fill="#8068b0" opacity="0.6"/>
<rect x="396.11" y="286.35" width="1.30" height="1.30" fill="#8068b0" opacity="0.6"/>
<rect x="396.11" y="289.35" width="1.30" height="1.30" fill="#8068b0" opacity="0.6"/>
<rect x="396.11" y="292.15" width="1.30" height="1.30" fill="#8068b0" opacity="0.6"/>
<rect x="402.51" y="270.30" width="1.45" height="24.30" fill="#8068b0" opacity="0.72"/>
<rect x="402.59" y="254.85" width="1.30" height="1.30" fill="#8068b0" opacity="0.6"/>
<rect x="402.59" y="261.05" width="1.30" height="1.30" fill="#8068b0" opacity="0.6"/>
<rect x="402.59" y="263.95" width="1.30" height="1.30" fill="#8068b0" opacity="0.6"/>
<rect x="409.00" y="275.20" width="1.45" height="19.40" fill="#8068b0" opacity="0.72"/>
<rect x="409.07" y="261.35" width="1.30" height="1.30" fill="#8068b0" opacity="0.6"/>
<rect x="409.07" y="265.15" width="1.30" height="1.30" fill="#8068b0" opacity="0.6"/>
<rect x="409.07" y="272.25" width="1.30" height="1.30" fill="#8068b0" opacity="0.6"/>
<rect x="415.48" y="266.40" width="1.45" height="27.00" fill="#8068b0" opacity="0.72"/>
<rect x="415.55" y="258.15" width="1.30" height="1.30" fill="#8068b0" opacity="0.6"/>
<rect x="415.55" y="261.05" width="1.30" height="1.30" fill="#8068b0" opacity="0.6"/>
<rect x="421.95" y="270.00" width="1.45" height="23.00" fill="#8068b0" opacity="0.72"/>
<rect x="428.44" y="267.00" width="1.45" height="25.50" fill="#8068b0" opacity="0.72"/>
<rect x="428.51" y="262.85" width="1.30" height="1.30" fill="#8068b0" opacity="0.6"/>
<rect x="434.91" y="271.00" width="1.45" height="22.50" fill="#8068b0" opacity="0.72"/>
<rect x="434.99" y="268.35" width="1.30" height="1.30" fill="#8068b0" opacity="0.6"/>
<rect x="441.39" y="267.00" width="1.45" height="24.50" fill="#8068b0" opacity="0.72"/>
<rect x="447.88" y="270.00" width="1.45" height="21.00" fill="#8068b0" opacity="0.72"/>
<rect x="447.95" y="265.35" width="1.30" height="1.30" fill="#8068b0" opacity="0.6"/>
<rect x="454.36" y="262.00" width="1.45" height="30.00" fill="#8068b0" opacity="0.72"/>
<rect x="460.83" y="260.50" width="1.45" height="29.50" fill="#8068b0" opacity="0.72"/>
<rect x="460.91" y="239.35" width="1.30" height="1.30" fill="#8068b0" opacity="0.6"/>
<rect x="460.91" y="247.55" width="1.30" height="1.30" fill="#8068b0" opacity="0.6"/>
<rect x="460.91" y="256.45" width="1.30" height="1.30" fill="#8068b0" opacity="0.6"/>
<rect x="467.31" y="245.00" width="1.45" height="46.40" fill="#8068b0" opacity="0.72"/>
<rect x="467.39" y="242.35" width="1.30" height="1.30" fill="#8068b0" opacity="0.6"/>
<rect x="473.79" y="253.70" width="1.45" height="37.70" fill="#8068b0" opacity="0.72"/>
<rect x="473.87" y="210.15" width="1.30" height="1.30" fill="#8068b0" opacity="0.6"/>
<rect x="473.87" y="221.85" width="1.30" height="1.30" fill="#8068b0" opacity="0.6"/>
<rect x="473.87" y="224.55" width="1.30" height="1.30" fill="#8068b0" opacity="0.6"/>
<rect x="473.87" y="232.75" width="1.30" height="1.30" fill="#8068b0" opacity="0.6"/>
<rect x="473.87" y="240.95" width="1.30" height="1.30" fill="#8068b0" opacity="0.6"/>
<rect x="473.87" y="243.75" width="1.30" height="1.30" fill="#8068b0" opacity="0.6"/>
<rect x="473.87" y="247.85" width="1.30" height="1.30" fill="#8068b0" opacity="0.6"/>
<rect x="473.87" y="249.35" width="1.30" height="1.30" fill="#8068b0" opacity="0.6"/>
<rect x="480.27" y="243.00" width="1.45" height="47.70" fill="#8068b0" opacity="0.72"/>
<rect x="480.35" y="190.05" width="1.30" height="1.30" fill="#8068b0" opacity="0.6"/>
<rect x="480.35" y="208.85" width="1.30" height="1.30" fill="#8068b0" opacity="0.6"/>
<rect x="480.35" y="211.55" width="1.30" height="1.30" fill="#8068b0" opacity="0.6"/>
<rect x="480.35" y="216.35" width="1.30" height="1.30" fill="#8068b0" opacity="0.6"/>
<rect x="480.35" y="220.35" width="1.30" height="1.30" fill="#8068b0" opacity="0.6"/>
<rect x="480.35" y="223.15" width="1.30" height="1.30" fill="#8068b0" opacity="0.6"/>
<rect x="480.35" y="230.05" width="1.30" height="1.30" fill="#8068b0" opacity="0.6"/>
<rect x="480.35" y="235.55" width="1.30" height="1.30" fill="#8068b0" opacity="0.6"/>
<rect x="480.35" y="239.65" width="1.30" height="1.30" fill="#8068b0" opacity="0.6"/>
<rect x="486.83" y="187.55" width="1.30" height="1.30" fill="#8068b0" opacity="0.6"/>
<rect x="486.83" y="208.35" width="1.30" height="1.30" fill="#8068b0" opacity="0.6"/>
<rect x="486.83" y="212.65" width="1.30" height="1.30" fill="#8068b0" opacity="0.6"/>
<rect x="486.83" y="234.15" width="1.30" height="1.30" fill="#8068b0" opacity="0.6"/>
<rect x="486.83" y="239.65" width="1.30" height="1.30" fill="#8068b0" opacity="0.6"/>
<rect x="486.83" y="242.35" width="1.30" height="1.30" fill="#8068b0" opacity="0.6"/>
<rect x="486.83" y="255.75" width="1.30" height="1.30" fill="#8068b0" opacity="0.6"/>
<rect x="486.83" y="257.85" width="1.30" height="1.30" fill="#8068b0" opacity="0.6"/>
<rect x="486.83" y="261.35" width="1.30" height="1.30" fill="#8068b0" opacity="0.6"/>
<rect x="486.83" y="269.35" width="1.30" height="1.30" fill="#8068b0" opacity="0.6"/>
<rect x="486.83" y="271.75" width="1.30" height="1.30" fill="#8068b0" opacity="0.6"/>
<rect x="486.83" y="274.15" width="1.30" height="1.30" fill="#8068b0" opacity="0.6"/>
<rect x="486.83" y="276.55" width="1.30" height="1.30" fill="#8068b0" opacity="0.6"/>
<rect x="486.83" y="278.95" width="1.30" height="1.30" fill="#8068b0" opacity="0.6"/>
<rect x="486.83" y="281.35" width="1.30" height="1.30" fill="#8068b0" opacity="0.6"/>
<rect x="486.83" y="283.75" width="1.30" height="1.30" fill="#8068b0" opacity="0.6"/>
<rect x="486.83" y="286.15" width="1.30" height="1.30" fill="#8068b0" opacity="0.6"/>
<rect x="486.83" y="288.55" width="1.30" height="1.30" fill="#8068b0" opacity="0.6"/>
<rect x="486.83" y="290.95" width="1.30" height="1.30" fill="#8068b0" opacity="0.6"/>
<rect x="499.79" y="230.35" width="1.30" height="1.30" fill="#8068b0" opacity="0.6"/>
<rect x="499.79" y="258.55" width="1.30" height="1.30" fill="#8068b0" opacity="0.6"/>
<rect x="499.79" y="274.65" width="1.30" height="1.30" fill="#8068b0" opacity="0.6"/>
<rect x="499.79" y="283.45" width="1.30" height="1.30" fill="#8068b0" opacity="0.6"/>
<rect x="499.79" y="288.35" width="1.30" height="1.30" fill="#8068b0" opacity="0.6"/>
<line x1="379.4" y1="296" x2="500" y2="265.8" stroke="#111" stroke-width="1.25"/>
<text x="387" y="192.4" font-size="7.6" fill="#231f20"><tspan font-style="italic">P</tspan> = 5.9 × 10<tspan font-size="5.0" dy="-2.6" style="stroke-width:0.08px">−14</tspan></text>
<text x="387" y="203.20000000000002" font-size="7.6" fill="#231f20">Est = 0.35, SE = 0.04</text>
<text x="411.7" y="324.4" font-size="9.8" fill="#231f20" textLength="19.2" lengthAdjust="spacingAndGlyphs">PGS</text>
<text x="431.0" y="321.29999999999995" font-size="4.6" fill="#333" font-style="italic" style="stroke-width:0.05px">HbF+COMT+5snps</text>
<line x1="48.5" y1="369" x2="48.5" y2="478.5" stroke="#231f20" stroke-width="1.1"/>
<line x1="45.6" y1="478.5" x2="168" y2="478.5" stroke="#231f20" stroke-width="1.1"/>
<line x1="45" y1="478.5" x2="48" y2="478.5" stroke="#231f20" stroke-width="1"/>
<text x="44.4" y="480.9" font-size="7.9" text-anchor="end" fill="#231f20">0</text>
<line x1="45" y1="451.5" x2="48" y2="451.5" stroke="#231f20" stroke-width="1"/>
<text x="44.4" y="453.9" font-size="7.9" text-anchor="end" fill="#231f20">10</text>
<line x1="45" y1="424.5" x2="48" y2="424.5" stroke="#231f20" stroke-width="1"/>
<text x="44.4" y="426.9" font-size="7.9" text-anchor="end" fill="#231f20">20</text>
<line x1="45" y1="397.5" x2="48" y2="397.5" stroke="#231f20" stroke-width="1"/>
<text x="44.4" y="399.9" font-size="7.9" text-anchor="end" fill="#231f20">30</text>
<line x1="45" y1="370.5" x2="48" y2="370.5" stroke="#231f20" stroke-width="1"/>
<text x="44.4" y="372.9" font-size="7.9" text-anchor="end" fill="#231f20">40</text>
<text x="0" y="0" font-size="8" text-anchor="middle" fill="#231f20" transform="translate(29.2,426.6) rotate(-90)">Number of participants</text>
<rect x="48.65" y="472.60" width="6.26" height="5.40" fill="#d4c8e4" stroke="#2b2b2b" stroke-width="0.9"/>
<rect x="54.91" y="470.00" width="6.26" height="8.00" fill="#d4c8e4" stroke="#2b2b2b" stroke-width="0.9"/>
<rect x="61.17" y="475.40" width="6.26" height="2.60" fill="#d4c8e4" stroke="#2b2b2b" stroke-width="0.9"/>
<rect x="67.43" y="455.00" width="6.26" height="23.00" fill="#d4c8e4" stroke="#2b2b2b" stroke-width="0.9"/>
<rect x="73.69" y="457.40" width="6.26" height="20.60" fill="#d4c8e4" stroke="#2b2b2b" stroke-width="0.9"/>
<rect x="79.95" y="432.40" width="6.26" height="45.60" fill="#d4c8e4" stroke="#2b2b2b" stroke-width="0.9"/>
<rect x="86.21" y="399.40" width="6.26" height="78.60" fill="#d4c8e4" stroke="#2b2b2b" stroke-width="0.9"/>
<rect x="92.47" y="387.40" width="6.26" height="90.60" fill="#d4c8e4" stroke="#2b2b2b" stroke-width="0.9"/>
<rect x="98.73" y="374.60" width="6.26" height="103.40" fill="#d4c8e4" stroke="#2b2b2b" stroke-width="0.9"/>
<rect x="104.99" y="382.60" width="6.26" height="95.40" fill="#d4c8e4" stroke="#2b2b2b" stroke-width="0.9"/>
<rect x="111.25" y="387.40" width="6.26" height="90.60" fill="#d4c8e4" stroke="#2b2b2b" stroke-width="0.9"/>
<rect x="117.51" y="407.40" width="6.26" height="70.60" fill="#d4c8e4" stroke="#2b2b2b" stroke-width="0.9"/>
<rect x="123.77" y="414.40" width="6.26" height="63.60" fill="#d4c8e4" stroke="#2b2b2b" stroke-width="0.9"/>
<rect x="130.03" y="424.40" width="6.26" height="53.60" fill="#d4c8e4" stroke="#2b2b2b" stroke-width="0.9"/>
<rect x="136.29" y="452.40" width="6.26" height="25.60" fill="#d4c8e4" stroke="#2b2b2b" stroke-width="0.9"/>
<rect x="142.55" y="450.20" width="6.26" height="27.80" fill="#d4c8e4" stroke="#2b2b2b" stroke-width="0.9"/>
<rect x="148.81" y="460.40" width="6.26" height="17.60" fill="#d4c8e4" stroke="#2b2b2b" stroke-width="0.9"/>
<rect x="161.33" y="475.00" width="6.26" height="3.00" fill="#d4c8e4" stroke="#2b2b2b" stroke-width="0.9"/>
<line x1="51.5" y1="478" x2="51.5" y2="480.8" stroke="#231f20" stroke-width="1"/>
<text x="52.099999999999994" y="488.2" font-size="8.0" text-anchor="middle" fill="#231f20">15</text>
<line x1="64.5" y1="478" x2="64.5" y2="480.8" stroke="#231f20" stroke-width="1"/>
<text x="64.61999999999999" y="488.2" font-size="8.0" text-anchor="middle" fill="#231f20">17</text>
<line x1="76.5" y1="478" x2="76.5" y2="480.8" stroke="#231f20" stroke-width="1"/>
<text x="77.14" y="488.2" font-size="8.0" text-anchor="middle" fill="#231f20">19</text>
<line x1="89.5" y1="478" x2="89.5" y2="480.8" stroke="#231f20" stroke-width="1"/>
<text x="89.66" y="488.2" font-size="8.0" text-anchor="middle" fill="#231f20">21</text>
<line x1="101.5" y1="478" x2="101.5" y2="480.8" stroke="#231f20" stroke-width="1"/>
<text x="102.17999999999999" y="488.2" font-size="8.0" text-anchor="middle" fill="#231f20">23</text>
<line x1="114.5" y1="478" x2="114.5" y2="480.8" stroke="#231f20" stroke-width="1"/>
<text x="114.69999999999999" y="488.2" font-size="8.0" text-anchor="middle" fill="#231f20">25</text>
<line x1="126.5" y1="478" x2="126.5" y2="480.8" stroke="#231f20" stroke-width="1"/>
<text x="127.22" y="488.2" font-size="8.0" text-anchor="middle" fill="#231f20">27</text>
<line x1="139.5" y1="478" x2="139.5" y2="480.8" stroke="#231f20" stroke-width="1"/>
<text x="139.74" y="488.2" font-size="8.0" text-anchor="middle" fill="#231f20">29</text>
<line x1="151.5" y1="478" x2="151.5" y2="480.8" stroke="#231f20" stroke-width="1"/>
<text x="152.26" y="488.2" font-size="8.0" text-anchor="middle" fill="#231f20">31</text>
<line x1="164.5" y1="478" x2="164.5" y2="480.8" stroke="#231f20" stroke-width="1"/>
<text x="164.78" y="488.2" font-size="8.0" text-anchor="middle" fill="#231f20">33</text>
<text x="72.2" y="505.4" font-size="9.8" fill="#231f20" textLength="19.2" lengthAdjust="spacingAndGlyphs">PGS</text>
<text x="91.5" y="502.29999999999995" font-size="4.6" fill="#333" style="stroke-width:0.05px">HbF+COMT+5snps</text>
<rect x="213.50" y="359.50" width="125.50" height="118.00" fill="none" stroke="#231f20" stroke-width="1.1"/>
<line x1="210.8" y1="474.5" x2="213.6" y2="474.5" stroke="#231f20" stroke-width="1"/>
<text x="207.6" y="477.0" font-size="7.4" text-anchor="end" fill="#231f20">0</text>
<line x1="210.8" y1="446.5" x2="213.6" y2="446.5" stroke="#231f20" stroke-width="1"/>
<text x="207.6" y="449.4" font-size="7.4" text-anchor="end" fill="#231f20">0.1</text>
<line x1="210.8" y1="419.5" x2="213.6" y2="419.5" stroke="#231f20" stroke-width="1"/>
<text x="207.6" y="421.8" font-size="7.4" text-anchor="end" fill="#231f20">0.2</text>
<line x1="210.8" y1="391.5" x2="213.6" y2="391.5" stroke="#231f20" stroke-width="1"/>
<text x="207.6" y="394.2" font-size="7.4" text-anchor="end" fill="#231f20">0.3</text>
<line x1="210.8" y1="364.5" x2="213.6" y2="364.5" stroke="#231f20" stroke-width="1"/>
<text x="207.6" y="366.6" font-size="7.4" text-anchor="end" fill="#231f20">0.4</text>
<text x="0" y="0" font-size="8" text-anchor="middle" fill="#231f20" transform="translate(190.2,418.5) rotate(-90)">Estimated # of events/person−year</text>
<rect x="222.00" y="453.50" width="31.00" height="19.00" fill="none" stroke="#231f20" stroke-width="1.1"/>
<line x1="222.0" y1="468.5" x2="253.0" y2="468.5" stroke="#231f20" stroke-width="1.1"/>
<line x1="237.5" y1="426.4" x2="237.5" y2="453.5" stroke="#231f20" stroke-width="1.1" stroke-dasharray="5.3,7"/>
<line x1="237.5" y1="472.5" x2="237.5" y2="473" stroke="#231f20" stroke-width="1.1"/>
<line x1="229.5" y1="426.5" x2="245.5" y2="426.5" stroke="#231f20" stroke-width="1.2"/>
<line x1="229.5" y1="473.5" x2="245.5" y2="473.5" stroke="#231f20" stroke-width="1.2"/>
<circle cx="237.50" cy="393.00" r="1.3" fill="#777" stroke="#231f20" stroke-width="1.1"/>
<circle cx="237.50" cy="404.00" r="1.3" fill="#777" stroke="#231f20" stroke-width="1.1"/>
<circle cx="237.50" cy="405.60" r="1.3" fill="#777" stroke="#231f20" stroke-width="1.1"/>
<circle cx="237.50" cy="414.40" r="1.3" fill="#777" stroke="#231f20" stroke-width="1.1"/>
<circle cx="237.50" cy="416.40" r="1.3" fill="#777" stroke="#231f20" stroke-width="1.1"/>
<circle cx="237.50" cy="421.40" r="1.3" fill="#777" stroke="#231f20" stroke-width="1.1"/>
<rect x="260.70" y="455.50" width="31.60" height="7.00" fill="none" stroke="#231f20" stroke-width="1.1"/>
<line x1="260.7" y1="458.5" x2="292.3" y2="458.5" stroke="#231f20" stroke-width="1.1"/>
<line x1="276.5" y1="445.6" x2="276.5" y2="455.5" stroke="#231f20" stroke-width="1.1" stroke-dasharray="5.3,7"/>
<line x1="276.5" y1="462.5" x2="276.5" y2="469" stroke="#231f20" stroke-width="1.1"/>
<line x1="268.5" y1="445.5" x2="284.5" y2="445.5" stroke="#231f20" stroke-width="1.2"/>
<line x1="268.5" y1="469.5" x2="284.5" y2="469.5" stroke="#231f20" stroke-width="1.2"/>
<circle cx="276.50" cy="437.40" r="1.3" fill="#777" stroke="#231f20" stroke-width="1.1"/>
<circle cx="276.50" cy="439.20" r="1.3" fill="#777" stroke="#231f20" stroke-width="1.1"/>
<circle cx="276.50" cy="443.80" r="1.3" fill="#777" stroke="#231f20" stroke-width="1.1"/>
<rect x="300.00" y="438.50" width="31.00" height="28.00" fill="none" stroke="#231f20" stroke-width="1.1"/>
<line x1="300.0" y1="456.5" x2="331.0" y2="456.5" stroke="#231f20" stroke-width="1.1"/>
<line x1="315.5" y1="407" x2="315.5" y2="438.5" stroke="#231f20" stroke-width="1.1" stroke-dasharray="5.3,7"/>
<line x1="315.5" y1="466.5" x2="315.5" y2="470.4" stroke="#231f20" stroke-width="1.1"/>
<line x1="307.5" y1="407.5" x2="323.5" y2="407.5" stroke="#231f20" stroke-width="1.2"/>
<line x1="307.5" y1="470.5" x2="323.5" y2="470.5" stroke="#231f20" stroke-width="1.2"/>
<circle cx="315.50" cy="392.60" r="1.3" fill="#777" stroke="#231f20" stroke-width="1.1"/>
<circle cx="315.50" cy="395.60" r="1.3" fill="#777" stroke="#231f20" stroke-width="1.1"/>
<path d="M237.6,376.2 V373.4 H315 V376.2" fill="none" stroke="#231f20" stroke-width="1.1"/>
<path d="M237.6,391.6 V388.6 H276 V391.6" fill="none" stroke="#231f20" stroke-width="1.1"/>
<text x="254" y="370.6" font-size="7.6" fill="#231f20"><tspan font-style="italic">P</tspan> = 9.0 × 10<tspan font-size="5.0" dy="-2.6" style="stroke-width:0.08px">−6</tspan></text>
<text x="237" y="386.8" font-size="7.6" fill="#231f20"><tspan font-style="italic">P</tspan> = 4.0 × 10<tspan font-size="5.0" dy="-2.6" style="stroke-width:0.08px">−4</tspan></text>
<text x="241" y="488.8" font-size="8.2" text-anchor="middle" fill="#231f20">&lt;19</text>
<text x="276.5" y="488.8" font-size="8.2" text-anchor="middle" fill="#231f20">19~30</text>
<text x="317.6" y="488.8" font-size="8.2" text-anchor="middle" fill="#231f20" letter-spacing="0.5">&gt;=30</text>
<text x="257.09999999999997" y="503.6" font-size="9.8" fill="#231f20" textLength="19.2" lengthAdjust="spacingAndGlyphs">PGS</text>
<text x="276.4" y="500.5" font-size="4.6" fill="#333" style="stroke-width:0.05px">HbF+COMT+5snps</text>
<line x1="384.5" y1="365.4" x2="384.5" y2="481.5" stroke="#231f20" stroke-width="1.1"/>
<line x1="382.4" y1="481.5" x2="515" y2="481.5" stroke="#231f20" stroke-width="1.1"/>
<line x1="381" y1="481.5" x2="384" y2="481.5" stroke="#231f20" stroke-width="1"/>
<text x="379.4" y="483.6" font-size="7.4" text-anchor="end" fill="#231f20">0</text>
<line x1="381" y1="452.5" x2="384" y2="452.5" stroke="#231f20" stroke-width="1"/>
<text x="379.4" y="454.85" font-size="7.4" text-anchor="end" fill="#231f20">0.1</text>
<line x1="381" y1="423.5" x2="384" y2="423.5" stroke="#231f20" stroke-width="1"/>
<text x="379.4" y="426.1" font-size="7.4" text-anchor="end" fill="#231f20">0.2</text>
<line x1="381" y1="394.5" x2="384" y2="394.5" stroke="#231f20" stroke-width="1"/>
<text x="379.4" y="397.35" font-size="7.4" text-anchor="end" fill="#231f20">0.3</text>
<line x1="381" y1="366.5" x2="384" y2="366.5" stroke="#231f20" stroke-width="1"/>
<text x="379.4" y="368.6" font-size="7.4" text-anchor="end" fill="#231f20">0.4</text>
<text x="0" y="0" font-size="8" text-anchor="middle" fill="#231f20" transform="translate(359.2,421.8) rotate(-90)">Proportion of time points on HU</text>
<rect x="398.40" y="456.60" width="18.20" height="24.40" fill="#5aa3d6" stroke="#231f20" stroke-width="1.1"/>
<rect x="440.00" y="410.00" width="19.00" height="71.00" fill="#2e5c48" stroke="#231f20" stroke-width="1.1"/>
<rect x="480.40" y="378.00" width="20.20" height="103.00" fill="#e62e89" stroke="#231f20" stroke-width="1.1"/>
<path d="M406.2,366.4 V363.4 H491.4 V366.4" fill="none" stroke="#231f20" stroke-width="1.4"/>
<path d="M406.2,403.4 V400.2 H451.4 V403.4" fill="none" stroke="#231f20" stroke-width="1.4"/>
<text x="427.4" y="359.4" font-size="7.6" fill="#231f20"><tspan font-style="italic">P</tspan> = 5.7 × 10<tspan font-size="5.0" dy="-2.6" style="stroke-width:0.08px">−6</tspan></text>
<text x="410.4" y="396.4" font-size="7.6" fill="#231f20"><tspan font-style="italic">P</tspan> = 6.9 × 10<tspan font-size="5.0" dy="-2.6" style="stroke-width:0.08px">−5</tspan></text>
<text x="407.5" y="491.8" font-size="8.2" text-anchor="middle" fill="#231f20">&lt;19</text>
<text x="449.5" y="491.8" font-size="8.2" text-anchor="middle" fill="#231f20">19~30</text>
<text x="491.2" y="491.8" font-size="8.2" text-anchor="middle" fill="#231f20" letter-spacing="0.5">&gt;=30</text>
<text x="414.7" y="505.2" font-size="9.8" fill="#231f20" textLength="19.2" lengthAdjust="spacingAndGlyphs">PGS</text>
<text x="434.0" y="502.09999999999997" font-size="4.6" fill="#333" style="stroke-width:0.05px">HbF+COMT+5snps</text>
<rect x="0.5" y="0.5" width="519" height="510" fill="none" stroke="#5a5a5a" stroke-width="1.05"/>
</svg></body></html>
